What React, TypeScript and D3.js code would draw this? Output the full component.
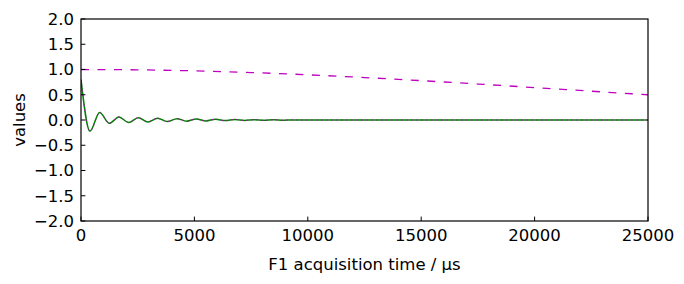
import React, { useEffect, useRef } from "react";
import * as d3 from "d3";

// Gaussian apodisation window (magenta dashed), read at 2500 µs steps
const windowTimes = [0, 2500, 5000, 7500, 10000, 12500, 15000, 17500, 20000, 22500, 25000];
const windowValues = [1.0, 0.993, 0.973, 0.94, 0.895, 0.841, 0.779, 0.712, 0.642, 0.57, 0.5];

// Damped FID (green solid + magenta dotted), read at extrema
const fidTimes = [0, 397, 823, 1249, 1675, 2101, 2527, 2953, 3379, 3805, 4231, 4657, 5083, 5509, 5935, 6361, 6787, 7213, 7639, 8065, 8491, 8917, 9343, 9769, 12000, 25000];
const fidValues = [0.8, -0.22, 0.15, -0.065, 0.06, -0.05, 0.045, -0.04, 0.035, -0.03, 0.027, -0.024, 0.021, -0.018, 0.015, -0.012, 0.01, -0.008, 0.006, -0.005, 0.004, -0.003, 0.002, -0.001, 0, 0];

const xTicks = [0, 5000, 10000, 15000, 20000, 25000];
const yTicks = [-2, -1.5, -1, -0.5, 0, 0.5, 1, 1.5, 2];

const W = 684;
const H = 284;
const L = 81;
const R = 648;
const T = 19;
const B = 221;
const FONT = "'DejaVu Sans', sans-serif";
const FS = 16.5;

export default function App() {
  const ref = useRef<SVGSVGElement>(null);

  useEffect(() => {
    const svg = d3.select(ref.current);
    svg.selectAll("*").remove();

    const x = d3.scaleLinear().domain([0, 25000]).range([L, R]);
    const y = d3.scaleLinear().domain([-2, 2]).range([B, T]);

    svg.append("rect").attr("x", 0).attr("y", 0).attr("width", W).attr("height", H).attr("fill", "#fff");

    svg.append("defs").append("clipPath").attr("id", "clip")
      .append("rect").attr("x", L).attr("y", T).attr("width", R - L).attr("height", B - T);

    const g = svg.append("g").attr("clip-path", "url(#clip)");

    const winLine = d3.line<number>()
      .x((_, i) => x(windowTimes[i]))
      .y((d) => y(d))
      .curve(d3.curveMonotoneX);

    const fidLine = d3.line<number>()
      .x((_, i) => x(fidTimes[i]))
      .y((d) => y(d))
      .curve(d3.curveMonotoneX);

    g.append("path").attr("d", fidLine(fidValues) as string)
      .attr("fill", "none").attr("stroke", "#008000").attr("stroke-width", 1.5);
    g.append("path").attr("d", fidLine(fidValues) as string)
      .attr("fill", "none").attr("stroke", "#bf00bf").attr("stroke-width", 1)
      .attr("stroke-dasharray", "1.5,3.5");
    g.append("path").attr("d", winLine(windowValues) as string)
      .attr("fill", "none").attr("stroke", "#bf00bf").attr("stroke-width", 1.3)
      .attr("stroke-dasharray", "8,8.5");

    // ticks (inside)
    const tk = 4.4;
    xTicks.forEach((t) => {
      svg.append("line").attr("x1", x(t)).attr("x2", x(t)).attr("y1", B).attr("y2", B - tk)
        .attr("stroke", "#000").attr("stroke-width", 1);
      svg.append("text").attr("x", x(t)).attr("y", 241).attr("text-anchor", "middle")
        .attr("font-family", FONT).attr("font-size", FS).attr("fill", "#000").text(String(t));
    });
    yTicks.forEach((t) => {
      svg.append("line").attr("x1", L).attr("x2", L + tk).attr("y1", y(t)).attr("y2", y(t))
        .attr("stroke", "#000").attr("stroke-width", 1);
      const lab = t.toFixed(1).replace("-", "\u2212");
      svg.append("text").attr("x", 74).attr("y", y(t)).attr("dy", "0.36em").attr("text-anchor", "end")
        .attr("font-family", FONT).attr("font-size", FS).attr("fill", "#000").text(lab);
    });

    svg.append("rect").attr("x", L).attr("y", T).attr("width", R - L).attr("height", B - T)
      .attr("fill", "none").attr("stroke", "#000").attr("stroke-width", 1.2);

    svg.append("text").attr("x", (L + R) / 2).attr("y", 270).attr("text-anchor", "middle")
      .attr("font-family", FONT).attr("font-size", FS).attr("fill", "#000")
      .text("F1 acquisition time / \u03bcs");

    svg.append("text").attr("transform", `translate(25,${(T + B) / 2}) rotate(-90)`)
      .attr("text-anchor", "middle")
      .attr("font-family", FONT).attr("font-size", FS).attr("fill", "#000")
      .text("values");
  }, []);

  return (
    <svg ref={ref} width={W} height={H} style={{ position: "absolute", left: 0, top: 0 }} />
  );
}
